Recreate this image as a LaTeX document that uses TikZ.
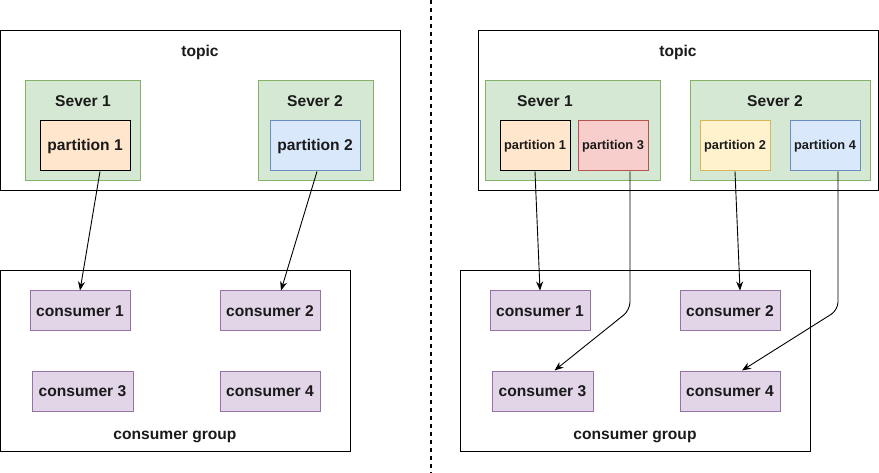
\documentclass[tikz,border=0pt]{standalone}
\usepackage{fontspec}
\setmainfont{Liberation Sans}
\usepackage{xcolor}
\usepackage{tikz}
\usetikzlibrary{arrows.meta, positioning}
\definecolor{severfill}{HTML}{D5E8D4}
\definecolor{severline}{HTML}{82B366}
\definecolor{consfill}{HTML}{E1D5E7}
\definecolor{consline}{HTML}{9673A6}
\definecolor{orangefill}{HTML}{FFE6CC}
\definecolor{bluefill}{HTML}{DAE8FC}
\definecolor{blueline}{HTML}{6C8EBF}
\definecolor{redfill}{HTML}{F8CECC}
\definecolor{redline}{HTML}{B85450}
\definecolor{yellowfill}{HTML}{FFF2CC}
\definecolor{yellowline}{HTML}{D6B656}
\definecolor{txt}{HTML}{1A1A1A}

\tikzset{
  box/.style={rectangle, draw, line width=1pt, inner sep=0pt, text=txt,
              font=\bfseries\fontsize{15.6}{18}\selectfont},
  outerbox/.style={box, draw=black, fill=white},
  severbox/.style={box, draw=severline, fill=severfill, minimum height=100},
  partbig/.style={box, minimum width=90, minimum height=50},
  partsmall/.style={box, minimum width=70, minimum height=50,
              font=\bfseries\fontsize{12.8}{15}\selectfont},
  consbox/.style={box, draw=consline, fill=consfill, minimum width=100, minimum height=40},
  lbl/.style={inner sep=0pt, text=txt, font=\bfseries\fontsize{15.6}{18}\selectfont},
  flow/.style={-{Stealth[length=9pt, width=7pt]}, line width=0.9pt, rounded corners=8pt}
}

\begin{document}
\begin{tikzpicture}[x=1pt, y=-1pt]
  \useasboundingbox (0,0) rectangle (879,473);

  \coordinate (divtop) at (431,0);
  \coordinate (divbot) at (431,473);
  \draw[line width=1.3pt, dash pattern=on 4pt off 4pt] (divtop) -- (divbot);

  \node[outerbox, minimum width=400, minimum height=160] (topicL) at (200,111) {};
  \node[lbl] (topicLtxt) at (200,52) {topic};
  \node[severbox, minimum width=115] (severL1) at (82.5,131) {};
  \node[lbl] (severL1txt) at (83,101) {Sever 1};
  \node[severbox, minimum width=115] (severL2) at (315.5,131) {};
  \node[lbl] (severL2txt) at (315,101) {Sever 2};
  \node[partbig, draw=black, fill=orangefill] (partL1) at (85,146) {partition 1};
  \node[partbig, draw=blueline, fill=bluefill] (partL2) at (315,146) {partition 2};

  \node[outerbox, minimum width=350, minimum height=180] (groupL) at (175,361) {};
  \node[lbl] (groupLtxt) at (175,437) {consumer group};
  \node[consbox] (consL1) at (80,311) {consumer 1};
  \node[consbox] (consL2) at (270,311) {consumer 2};
  \node[consbox, minimum width=101] (consL3) at (82.5,391) {consumer 3};
  \node[consbox] (consL4) at (270,391) {consumer 4};

  \draw[flow] ([xshift=15pt]partL1.south) -- (consL1.north);
  \draw[flow] ([xshift=2pt]partL2.south) -- ([xshift=11pt]consL2.north);

  \node[outerbox, minimum width=400, minimum height=160] (topicR) at (678,111) {};
  \node[lbl] (topicRtxt) at (678,52) {topic};
  \node[severbox, minimum width=175] (severR1) at (572.5,131) {};
  \node[lbl] (severR1txt) at (545,101) {Sever 1};
  \node[severbox, minimum width=180] (severR2) at (780,131) {};
  \node[lbl] (severR2txt) at (775,101) {Sever 2};
  \node[partsmall, draw=black, fill=orangefill] (partR1) at (535,146) {partition 1};
  \node[partsmall, draw=redline, fill=redfill] (partR3) at (613,146) {partition 3};
  \node[partsmall, draw=yellowline, fill=yellowfill] (partR2) at (735,146) {partition 2};
  \node[partsmall, draw=blueline, fill=bluefill] (partR4) at (825,146) {partition 4};

  \node[outerbox, minimum width=350, minimum height=180] (groupR) at (635,361) {};
  \node[lbl] (groupRtxt) at (635,437) {consumer group};
  \node[consbox] (consR1) at (540,311) {consumer 1};
  \node[consbox] (consR2) at (730,311) {consumer 2};
  \node[consbox, minimum width=101] (consR3) at (542.5,391) {consumer 3};
  \node[consbox] (consR4) at (730,391) {consumer 4};

  \coordinate (bendR3) at (630,310);
  \coordinate (bendR4) at (838,310);
  \draw[flow] (partR1.south) -- (consR1.north);
  \draw[flow] (partR2.south) -- ([xshift=10pt]consR2.north);
  \draw[flow] (partR3.south -| bendR3) -- (bendR3) -- ([xshift=12pt]consR3.north);
  \draw[flow] (partR4.south -| bendR4) -- (bendR4) -- ([xshift=12pt]consR4.north);
\end{tikzpicture}
\end{document}
